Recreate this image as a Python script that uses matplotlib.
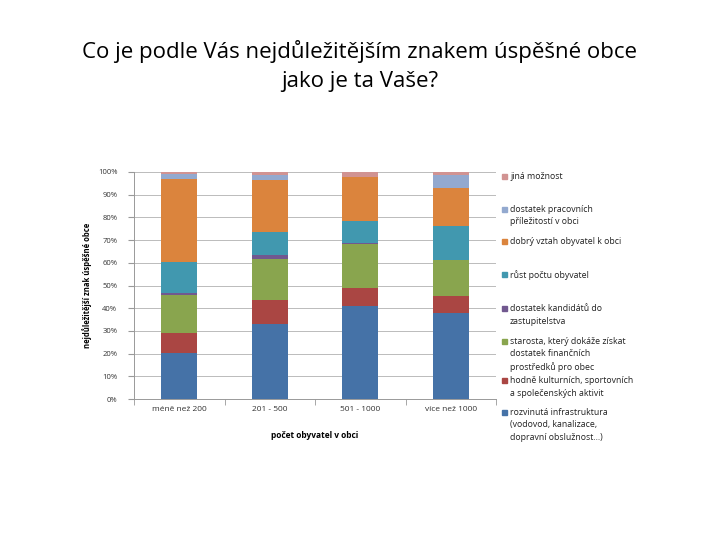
import matplotlib.pyplot as plt
import numpy as np
from matplotlib.patches import Rectangle

CATEGORIES = ["méně než 200", "201 - 500", "501 - 1000", "více než 1000"]

# stacked shares in %, bottom to top
INFRASTRUKTURA = [20.4, 32.9, 41.0, 38.1]
AKTIVITY = [8.7, 10.5, 7.7, 7.3]
STAROSTA = [16.5, 18.3, 19.7, 15.8]
KANDIDATI = [1.2, 1.7, 0.5, 0.0]
RUST = [13.4, 10.3, 9.7, 15.2]
VZTAH = [36.9, 22.6, 19.0, 16.4]
PRACE = [2.0, 2.5, 0.0, 6.0]
JINA = [0.9, 1.2, 2.4, 1.2]

SERIES_LABELS = [
    "rozvinutá infrastruktura\n(vodovod, kanalizace,\ndopravní obslužnost...)",
    "hodně kulturních, sportovních\na společenských aktivit",
    "starosta, který dokáže získat\ndostatek finančních\nprostředků pro obec",
    "dostatek kandidátů do\nzastupitelstva",
    "růst počtu obyvatel",
    "dobrý vztah obyvatel k obci",
    "dostatek pracovních\npříležitostí v obci",
    "jiná možnost",
]
COLORS = ["#4572A7", "#AA4643", "#89A54E", "#71588F", "#4198AF",
          "#DB843D", "#93A9CF", "#D19392"]

Y_TICKS = [0, 10, 20, 30, 40, 50, 60, 70, 80, 90, 100]

plt.rcParams["font.family"] = ["Open Sans", "DejaVu Sans"]

fig = plt.figure(figsize=(7.2, 5.4), dpi=100)
fig.text(0.5, 1 - 66 / 540, "Co je podle Vás nejdůležitějším znakem úspěšné obce\njako je ta Vaše?",
         ha="center", va="center", fontsize=16, linespacing=1.55)

ax = fig.add_axes([134 / 720, 1 - 399 / 540, (496 - 134) / 720, (399 - 172) / 540])

series = [INFRASTRUKTURA, AKTIVITY, STAROSTA, KANDIDATI, RUST, VZTAH, PRACE, JINA]
x = np.arange(len(CATEGORIES))
bottom = np.zeros(len(CATEGORIES))
for vals, col in zip(series, COLORS):
    vals = np.array(vals, dtype=float)
    ax.bar(x, vals, 0.4, bottom=bottom, color=col, edgecolor="none", zorder=3)
    bottom += vals

ax.set_xlim(-0.5, len(CATEGORIES) - 0.5)
ax.set_ylim(0, 100)
ax.set_yticks(Y_TICKS)
ax.set_yticklabels([f"{t}%" for t in Y_TICKS], fontsize=5.5, color="#333333")
ax.set_xticks(x)
ax.set_xticklabels(CATEGORIES, fontsize=6, color="#333333")
ax.tick_params(axis="x", length=0, pad=5)
ax.tick_params(axis="y", length=4, color="#999999", pad=8)
ax.set_xticks(np.arange(-0.5, len(CATEGORIES)), minor=True)
ax.tick_params(axis="x", which="minor", length=4, color="#999999")
ax.grid(axis="y", color="#BBBBBB", linewidth=0.7, zorder=0)
for s in ["top", "right"]:
    ax.spines[s].set_visible(False)
for s in ["left", "bottom"]:
    ax.spines[s].set_color("#999999")
    ax.spines[s].set_linewidth(0.7)

ax.set_xlabel("počet obyvatel v obci", fontsize=6, fontweight="bold", labelpad=13)
ax.set_ylabel("nejdůležitější znak úspěšné obce", fontsize=5.5, fontweight="bold", labelpad=4)

# legend entries, top entry first (pixel rows of each marker)
legend_rows = [176, 209, 241, 274, 308, 341, 380, 412]
for yy, lab, col in zip(legend_rows, SERIES_LABELS[::-1], COLORS[::-1]):
    fig.add_artist(Rectangle((502 / 720, 1 - (yy + 3) / 540), 5 / 720, 5 / 540,
                             color=col, transform=fig.transFigure))
    fig.text(510 / 720, 1 - (yy - 4) / 540, lab, fontsize=6.3, va="top",
             ha="left", color="#222222", linespacing=1.5)

fig.savefig("out.png", dpi=100)
